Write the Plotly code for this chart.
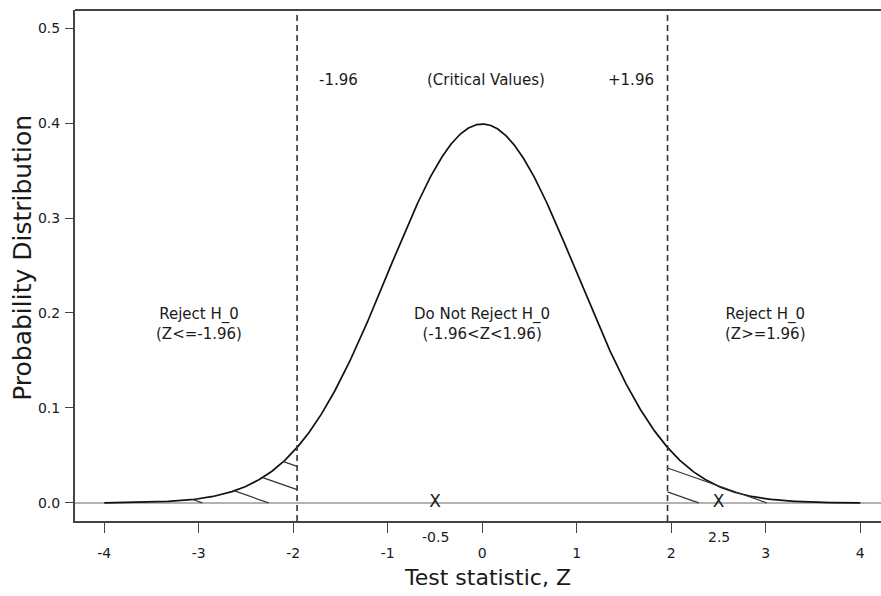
import numpy as np
import plotly.graph_objects as go

# ---- data ----
z_grid = np.linspace(-4, 4, 801)
critical_values = [-1.96, 1.96]
x_ticks = [-4, -3, -2, -1, 0, 1, 2, 3, 4]
y_ticks = [0.0, 0.1, 0.2, 0.3, 0.4, 0.5]
observed_z = [-0.5, 2.5]
observed_labels = ["-0.5", "2.5"]
region_labels = ["Reject H_0<br>(Z<=-1.96)", "Do Not Reject H_0<br>(-1.96<Z<1.96)", "Reject H_0<br>(Z>=1.96)"]
region_x = [-3.0, 0.0, 3.0]
region_y = 0.188
crit_labels = ["-1.96", "(Critical Values)", "+1.96"]
crit_label_x = [-1.52, 0.04, 1.57]
crit_label_y = 0.445

# hatch families (slope, intercepts at the critical value)
hatch_slope = -0.035
left_hatch_b = [0.0385, 0.014, -0.0105, -0.035]
right_hatch_b = [0.0368, 0.0116]

def pdf(z):
    return np.exp(-0.5 * z ** 2) / np.sqrt(2 * np.pi)

FONT = "DejaVu Sans, Liberation Sans, Arial, sans-serif"
INK = "#1a1a1a"

fig = go.Figure()

# density curve
fig.add_trace(go.Scatter(x=z_grid, y=pdf(z_grid), mode="lines",
                         line=dict(color="#111111", width=1.7), hoverinfo="skip"))

# hatching in tails
def hatch(x0, side, b):
    if side < 0:
        xs = np.linspace(-4.3, x0, 800)
    else:
        xs = np.linspace(x0, 4.3, 800)
    ys = b + hatch_slope * (xs - x0)
    ok = (ys >= 0) & (ys <= pdf(xs))
    if ok.sum() < 2:
        return
    fig.add_trace(go.Scatter(x=xs[ok], y=ys[ok], mode="lines",
                             line=dict(color="#333333", width=1.2), hoverinfo="skip"))

for b in left_hatch_b:
    hatch(critical_values[0], -1, b)
for b in right_hatch_b:
    hatch(critical_values[1], 1, b)

# observed markers
fig.add_trace(go.Scatter(x=observed_z, y=[0, 0], mode="text", text=["X", "X"],
                         textfont=dict(family=FONT, size=17, color=INK), hoverinfo="skip"))

shapes = []
# zero line
shapes.append(dict(type="line", xref="paper", yref="y", x0=0, x1=1, y0=0, y1=0,
                   line=dict(color="#9a9a9a", width=1.6), layer="below"))
# critical value dashed lines
for cv in critical_values:
    shapes.append(dict(type="line", xref="x", yref="paper", x0=cv, x1=cv, y0=0, y1=1,
                       line=dict(color="#333333", width=1.6, dash="6px,4px")))
# top border
shapes.append(dict(type="line", xref="paper", yref="paper", x0=0, x1=1, y0=1, y1=1,
                   line=dict(color="#444444", width=2)))

annotations = []
for t, x in zip(region_labels, region_x):
    annotations.append(dict(x=x, y=region_y, xref="x", yref="y", text=t, showarrow=False,
                            font=dict(family=FONT, size=15, color=INK)))
for t, x in zip(crit_labels, crit_label_x):
    annotations.append(dict(x=x, y=crit_label_y, xref="x", yref="y", text=t, showarrow=False,
                            font=dict(family=FONT, size=15, color=INK)))
for t, x in zip(observed_labels, observed_z):
    annotations.append(dict(x=x, y=-0.031, xref="x", yref="paper", text=t, showarrow=False,
                            yanchor="middle", font=dict(family=FONT, size=14, color=INK)))
annotations.append(dict(x=0.05, y=-0.1115, xref="x", yref="paper", text="Test statistic, Z",
                        showarrow=False, yanchor="middle",
                        font=dict(family=FONT, size=22, color=INK)))
annotations.append(dict(x=-0.0645, y=0.515, xref="paper", yref="paper",
                        text="Probability Distribution", textangle=-90, showarrow=False,
                        xanchor="center", yanchor="middle",
                        font=dict(family=FONT, size=25, color=INK)))

fig.update_layout(
    template="none",
    width=881, height=596,
    margin=dict(l=75, r=0, t=10, b=75, autoexpand=False),
    paper_bgcolor="white", plot_bgcolor="white",
    showlegend=False,
    shapes=shapes, annotations=annotations,
    font=dict(family=FONT, size=14, color=INK),
    xaxis=dict(range=[-4.31, 4.219], tickvals=x_ticks, ticktext=[str(v) for v in x_ticks],
               automargin=False,
               showgrid=False, zeroline=False, showline=True, linecolor="#444444", linewidth=2,
               ticks="outside", ticklen=10, tickwidth=1.2, tickcolor="#444444",
               ticklabelstandoff=8, tickfont=dict(family=FONT, size=14, color=INK)),
    yaxis=dict(range=[-0.019, 0.519], tickvals=y_ticks, ticktext=[f"{v:.1f}" for v in y_ticks],
               automargin=False,
               showgrid=False, zeroline=False, showline=True, linecolor="#444444", linewidth=2,
               ticks="outside", ticklen=8, tickwidth=1.2, tickcolor="#444444",
               ticklabelstandoff=2, tickfont=dict(family=FONT, size=14, color=INK)),
)

fig.write_html("out.html", config={"displayModeBar": False},
               post_script="document.body.style.margin='0';document.body.style.padding='0';")
